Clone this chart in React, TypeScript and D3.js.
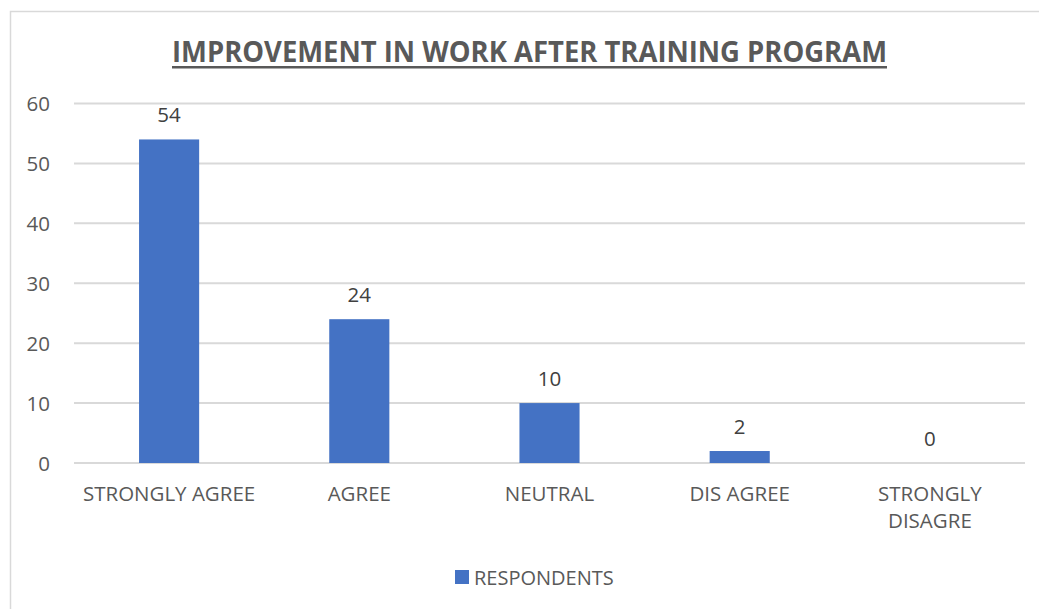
import * as d3 from 'd3';
import React from 'react';

const categories = ['STRONGLY AGREE', 'AGREE', 'NEUTRAL', 'DIS AGREE', 'STRONGLY DISAGRE'];
const respondents = [54, 24, 10, 2, 0];
const yTicks = [0, 10, 20, 30, 40, 50, 60];
const seriesName = 'RESPONDENTS';
const title = 'IMPROVEMENT IN WORK AFTER TRAINING PROGRAM';

const W = 1039;
const H = 609;
const FONT = '"Open Sans", "Liberation Sans", sans-serif';

export default function App() {
  const plot = { left: 74, right: 1025, top: 103.5, bottom: 463 };

  const x = d3.scaleBand<string>()
    .domain(categories)
    .range([plot.left, plot.right])
    .paddingInner(0.684)
    .paddingOuter(0.342);

  const y = d3.scaleLinear().domain([0, 60]).range([plot.bottom, plot.top]);

  // wrap long category names in two lines like the original
  const labelLines = (c: string) => (c === 'STRONGLY DISAGRE' ? ['STRONGLY', 'DISAGRE'] : [c]);

  return (
    <svg
      width={W}
      height={H}
      style={{ position: 'absolute', left: 0, top: 0 }}
      fontFamily={FONT}
    >
      <rect x={0} y={0} width={W} height={H} fill="#ffffff" />
      <rect x={10.5} y={11.5} width={W + 10} height={H + 10} fill="none" stroke="#d9d9d9" strokeWidth={1.5} />

      {/* title */}
      <text
        x={529.5}
        y={62}
        textAnchor="middle"
        fontSize={28}
        fontWeight="bold"
        fill="#595959"
        textLength={715}
        lengthAdjust="spacingAndGlyphs"
      >
        {title}
      </text>
      <rect x={172} y={66} width={715} height={2.5} fill="#595959" />

      {/* gridlines + y labels */}
      {yTicks.map(t => (
        <g key={t}>
          <line x1={plot.left} x2={plot.right} y1={y(t)} y2={y(t)} stroke="#d9d9d9" strokeWidth={2} />
          <text x={50} y={y(t) + 7.5} textAnchor="end" fontSize={20.5} fill="#595959">{t}</text>
        </g>
      ))}

      {/* bars */}
      {categories.map((c, i) => (
        <g key={c}>
          {respondents[i] > 0 && (
            <rect
              x={x(c)}
              y={y(respondents[i])}
              width={x.bandwidth()}
              height={y(0) - y(respondents[i])}
              fill="#4472c4"
            />
          )}
          <text
            x={(x(c) ?? 0) + x.bandwidth() / 2}
            y={y(respondents[i]) - 17}
            textAnchor="middle"
            fontSize={20.5}
            fill="#404040"
          >
            {respondents[i]}
          </text>
          {labelLines(c).map((line, j) => (
            <text
              key={line}
              x={(x(c) ?? 0) + x.bandwidth() / 2}
              y={501 + j * 27}
              textAnchor="middle"
              fontSize={20.5}
              fill="#595959"
            >
              {line}
            </text>
          ))}
        </g>
      ))}

      {/* legend */}
      <rect x={455} y={570} width={14} height={14} fill="#4472c4" />
      <text x={474} y={584.5} fontSize={20} fill="#595959">{seriesName}</text>
    </svg>
  );
}
